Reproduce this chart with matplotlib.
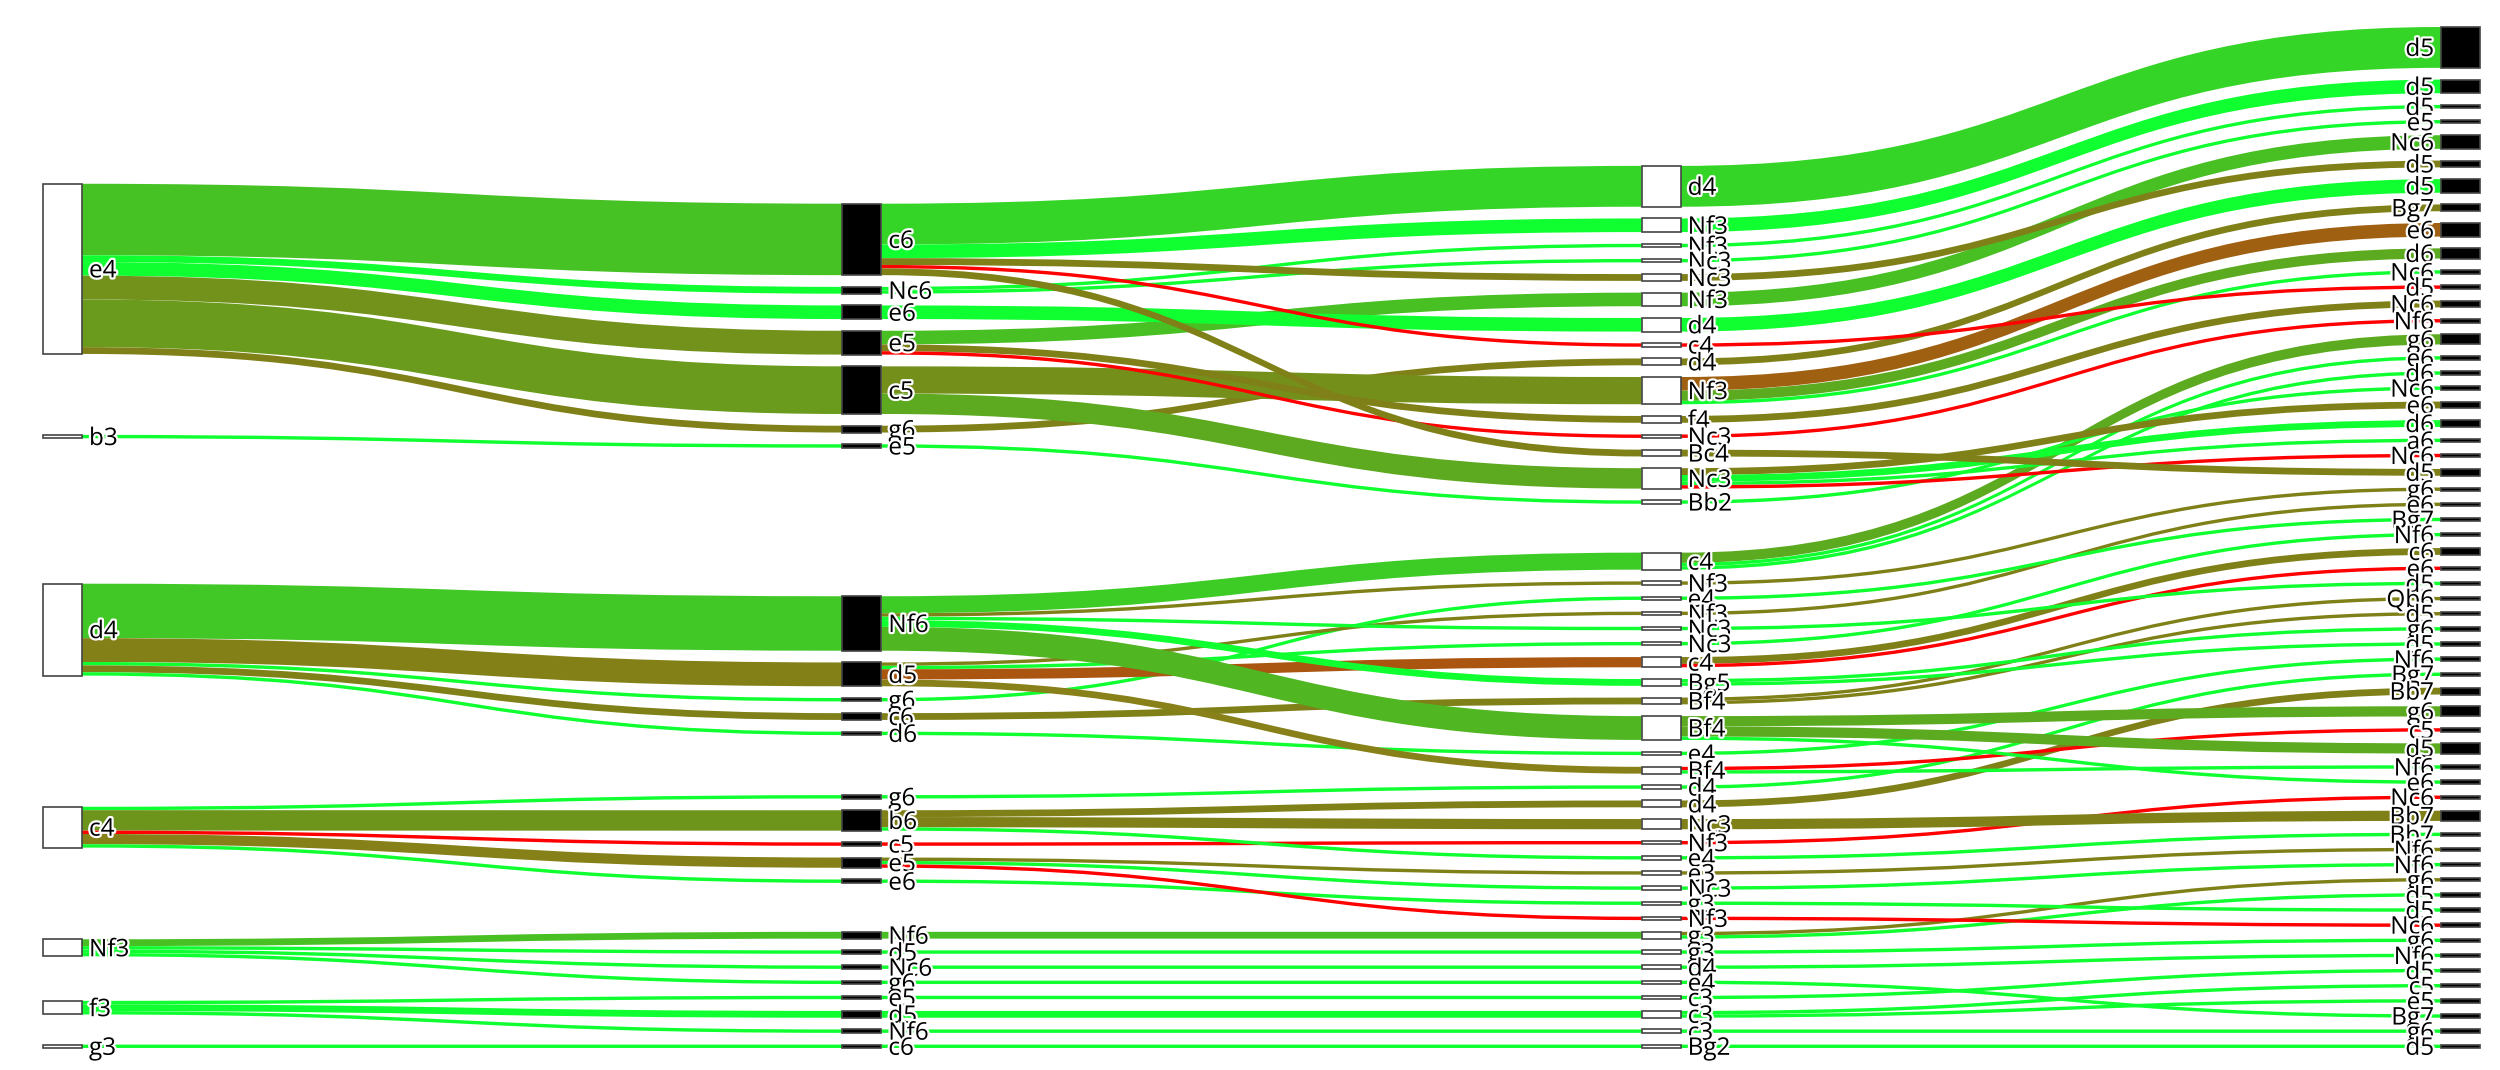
import numpy as np
import matplotlib
matplotlib.use("Agg")
import matplotlib.pyplot as plt
from matplotlib.patches import Rectangle, PathPatch
from matplotlib.path import Path
import matplotlib.patheffects as pe

# ---------------- data: one entry per 4-ply opening line (last column order) ----
ply1 = ["e4", "e4", "e4", "e4", "e4", "e4", "e4", "e4", "e4", "e4",
        "e4", "e4", "e4", "e4", "d4", "d4", "d4", "b3", "e4", "e4",
        "e4", "e4", "e4", "d4", "d4", "d4", "d4", "d4", "d4", "d4",
        "d4", "d4", "d4", "d4", "d4", "c4", "c4", "d4", "d4", "d4",
        "d4", "d4", "c4", "c4", "c4", "c4", "c4", "Nf3", "Nf3", "c4",
        "c4", "Nf3", "Nf3", "f3", "f3", "f3", "Nf3", "f3", "g3"]
ply2 = ["c6", "c6", "Nc6", "Nc6", "e5", "c6", "e6", "g6", "c5", "c5",
        "c5", "c6", "e5", "e5", "Nf6", "Nf6", "Nf6", "e5", "c5", "c5",
        "c5", "c5", "c6", "Nf6", "d5", "g6", "d5", "d5", "d5", "Nf6",
        "c6", "c6", "Nf6", "Nf6", "d6", "g6", "b6", "Nf6", "d5", "Nf6",
        "d5", "Nf6", "c5", "b6", "b6", "e5", "e5", "Nf6", "Nf6", "e6",
        "e5", "d5", "Nc6", "e5", "d5", "d5", "g6", "Nf6", "c6"]
ply3 = ["d4", "Nf3", "Nf3", "Nc3", "Nf3", "Nc3", "d4", "d4", "Nf3", "Nf3",
        "Nf3", "c4", "f4", "Nc3", "c4", "c4", "c4", "Bb2", "Nc3", "Nc3",
        "Nc3", "Nc3", "Bc4", "Nf3", "Nf3", "e4", "Nc3", "c4", "c4", "Nc3",
        "Bf4", "Bf4", "Bg5", "Bg5", "e4", "d4", "d4", "Bf4", "Bf4", "Bf4",
        "Bf4", "Bf4", "Nf3", "Nc3", "e4", "e3", "Nc3", "g3", "g3", "g3",
        "Nf3", "g3", "d4", "c3", "c3", "c3", "e4", "c3", "Bg2"]
ply4 = ["d5", "d5", "d5", "e5", "Nc6", "d5", "d5", "Bg7", "e6", "d6",
        "Nc6", "d5", "Nc6", "Nf6", "g6", "e6", "d6", "Nc6", "e6", "d6",
        "a6", "Nc6", "d5", "g6", "e6", "Bg7", "Nf6", "c6", "e6", "d5",
        "Qb6", "d5", "g6", "d5", "Nf6", "Bg7", "Bb7", "g6", "c5", "d5",
        "Nf6", "e6", "Nc6", "Bb7", "Bb7", "Nf6", "Nf6", "g6", "d5", "d5",
        "Nc6", "g6", "Nf6", "d5", "c5", "e5", "Bg7", "g6", "d5"]
wins = [8, 4, 1, 1, 2, 0, 4, 0, 0, 1,
        1, 0, 0, 0, 1, 1, 1, 1, 0, 2,
        1, 0, 0, 0, 0, 1, 1, 0, 0, 1,
        0, 0, 1, 1, 1, 1, 0, 1, 0, 1,
        1, 1, 0, 0, 1, 0, 1, 0, 1, 1,
        0, 1, 1, 1, 1, 1, 1, 1, 1]
draws = [4, 0, 0, 0, 2, 2, 0, 2, 3, 2,
         0, 0, 2, 0, 2, 0, 0, 0, 2, 0,
         0, 0, 2, 1, 1, 0, 0, 2, 0, 0,
         1, 1, 0, 0, 0, 0, 2, 2, 0, 2,
         0, 0, 0, 3, 0, 1, 0, 1, 0, 0,
         0, 0, 0, 0, 0, 0, 0, 0, 0]
losses = [0, 0, 0, 0, 0, 0, 0, 0, 1, 0,
          0, 1, 0, 1, 0, 0, 0, 0, 0, 0,
          0, 1, 0, 0, 0, 0, 0, 0, 1, 0,
          0, 0, 0, 0, 0, 0, 0, 0, 1, 0,
          0, 0, 1, 0, 0, 0, 0, 0, 0, 0,
          1, 0, 0, 0, 0, 0, 0, 0, 0]

# vertical order of the nodes in the first three columns
order_ply1 = ["e4", "b3", "d4", "c4", "Nf3", "f3", "g3"]
order_ply2 = ["e4 c6", "e4 Nc6", "e4 e6", "e4 e5", "e4 c5", "e4 g6", "b3 e5",
              "d4 Nf6", "d4 d5", "d4 g6", "d4 c6", "d4 d6",
              "c4 g6", "c4 b6", "c4 c5", "c4 e5", "c4 e6",
              "Nf3 Nf6", "Nf3 d5", "Nf3 Nc6", "Nf3 g6",
              "f3 e5", "f3 d5", "f3 Nf6", "g3 c6"]
order_ply3 = ["e4 c6 d4", "e4 c6 Nf3", "e4 Nc6 Nf3", "e4 Nc6 Nc3", "e4 c6 Nc3",
              "e4 e5 Nf3", "e4 e6 d4", "e4 c6 c4", "e4 g6 d4", "e4 c5 Nf3",
              "e4 e5 f4", "e4 e5 Nc3", "e4 c6 Bc4", "e4 c5 Nc3", "b3 e5 Bb2",
              "d4 Nf6 c4", "d4 Nf6 Nf3", "d4 g6 e4", "d4 d5 Nf3", "d4 Nf6 Nc3",
              "d4 d5 Nc3", "d4 d5 c4", "d4 Nf6 Bg5", "d4 c6 Bf4", "d4 Nf6 Bf4",
              "d4 d6 e4", "d4 d5 Bf4",
              "c4 g6 d4", "c4 b6 d4", "c4 b6 Nc3", "c4 c5 Nf3", "c4 b6 e4",
              "c4 e5 e3", "c4 e5 Nc3", "c4 e6 g3", "c4 e5 Nf3",
              "Nf3 Nf6 g3", "Nf3 d5 g3", "Nf3 Nc6 d4", "Nf3 g6 e4",
              "f3 e5 c3", "f3 d5 c3", "f3 Nf6 c3", "g3 c6 Bg2"]

# ---------------- styling / geometry ----------------
W_PX, H_PX = 2500, 1070
X_LEFT, X_RIGHT = 43, 2480
Y_TOP, Y_BOT = 27, 1048
NODE_W = 39
NODE_PAD = 40
ITERATIONS = 48
WIN_C = np.array([16, 255, 48]) / 255.0
DRAW_C = np.array([128, 128, 24]) / 255.0
LOSS_C = np.array([255, 0, 0]) / 255.0
FONT = ["Open Sans", "DejaVu Sans"]
FS = 17.5

# ---------------- build graph ----------------
leaves = list(zip(ply1, ply2, ply3, ply4))
value, wdl = {}, {}
for i, path in enumerate(leaves):
    res = np.array([wins[i], draws[i], losses[i]], dtype=float)
    for d in range(1, 5):
        k = path[:d]
        value[k] = value.get(k, 0) + res.sum()
        wdl[k] = wdl.get(k, np.zeros(3)) + res

columns = [[tuple(s.split()) for s in o] for o in (order_ply1, order_ply2, order_ply3)]
columns.append(leaves)
children = {}
for d in range(3):
    for n in columns[d]:
        children[n] = [m for m in columns[d + 1] if m[:-1] == n]

# ---------------- sankey layout (d3-sankey style relaxation) ----------------
H = Y_BOT - Y_TOP
L = max(len(c) for c in columns)
pad = min(NODE_PAD, 2.0 / 3.0 * H / (L - 1))
ky = min((H - (len(c) - 1) * pad) / sum(value[n] for n in c) for c in columns)
y0, y1 = {}, {}
for c in columns:
    for i, n in enumerate(c):
        y0[n] = float(i)
        y1[n] = i + value[n] * ky


def shift(n, dy):
    y0[n] += dy
    y1[n] += dy


def center(n):
    return 0.5 * (y0[n] + y1[n])


def resolve():
    for c in columns:
        y = Y_TOP
        for n in c:
            dy = y - y0[n]
            if dy > 0:
                shift(n, dy)
            y = y1[n] + pad
        dy = y - pad - Y_BOT
        if dy > 0:
            shift(c[-1], -dy)
            y = y0[c[-1]]
            for n in reversed(c[:-1]):
                dy = y1[n] + pad - y
                if dy > 0:
                    shift(n, -dy)
                y = y0[n]


def relax_rl(alpha):
    for c in reversed(columns):
        for n in c:
            ch = children.get(n)
            if ch:
                t = sum(center(m) * value[m] for m in ch) / sum(value[m] for m in ch)
                shift(n, (t - center(n)) * alpha)


def relax_lr(alpha):
    for c in columns:
        for n in c:
            if len(n) > 1:
                shift(n, (center(n[:-1]) - center(n)) * alpha)


resolve()
alpha = 1.0
for _ in range(ITERATIONS):
    alpha *= 0.99
    relax_rl(alpha)
    resolve()
    relax_lr(alpha)
    resolve()

step = (X_RIGHT - X_LEFT - NODE_W) / (len(columns) - 1)
xcol = [X_LEFT + d * step for d in range(len(columns))]

# link source offsets (outgoing links stacked by target position)
src_y = {}
for d in range(3):
    for n in columns[d]:
        yy = y0[n]
        for m in sorted(children[n], key=lambda m: y0[m]):
            src_y[m] = yy
            yy += value[m] * ky


def mix(n):
    w = wdl[n] / wdl[n].sum()
    return tuple(np.clip(w[0] * WIN_C + w[1] * DRAW_C + w[2] * LOSS_C, 0, 1))


# ---------------- draw ----------------
fig = plt.figure(figsize=(W_PX / 100, H_PX / 100), dpi=100)
ax = fig.add_axes([0, 0, 1, 1])
ax.set_xlim(0, W_PX)
ax.set_ylim(H_PX, 0)
ax.axis("off")

for d in range(1, 4):
    xs = xcol[d - 1] + NODE_W
    xt = xcol[d]
    xm = 0.5 * (xs + xt)
    for n in columns[d]:
        w = value[n] * ky
        ys, yt = src_y[n], y0[n]
        verts = [(xs, ys), (xm, ys), (xm, yt), (xt, yt), (xt, yt + w),
                 (xm, yt + w), (xm, ys + w), (xs, ys + w), (xs, ys)]
        codes = [Path.MOVETO, Path.CURVE4, Path.CURVE4, Path.CURVE4, Path.LINETO,
                 Path.CURVE4, Path.CURVE4, Path.CURVE4, Path.CLOSEPOLY]
        ax.add_patch(PathPatch(Path(verts, codes), facecolor=mix(n),
                               edgecolor="none", lw=0, zorder=1))

halo = [pe.withStroke(linewidth=3.2, foreground="white")]
em_px = FS * 100 / 72.0
for d, c in enumerate(columns):
    for n in c:
        fc = "white" if d % 2 == 0 else "black"
        ax.add_patch(Rectangle((xcol[d], y0[n]), NODE_W, y1[n] - y0[n],
                               facecolor=fc, edgecolor="#444444", lw=1.2, zorder=2))
        yb = center(n) + 0.35 * em_px
        if d < 3:
            ax.text(xcol[d] + NODE_W + 7, yb, n[-1], ha="left", va="baseline",
                    fontsize=FS, family=FONT, color="black", zorder=3,
                    path_effects=halo)
        else:
            ax.text(xcol[d] - 7, yb, n[-1], ha="right", va="baseline",
                    fontsize=FS, family=FONT, color="black", zorder=3,
                    path_effects=halo)

fig.savefig("out.png", dpi=100, facecolor="white")
